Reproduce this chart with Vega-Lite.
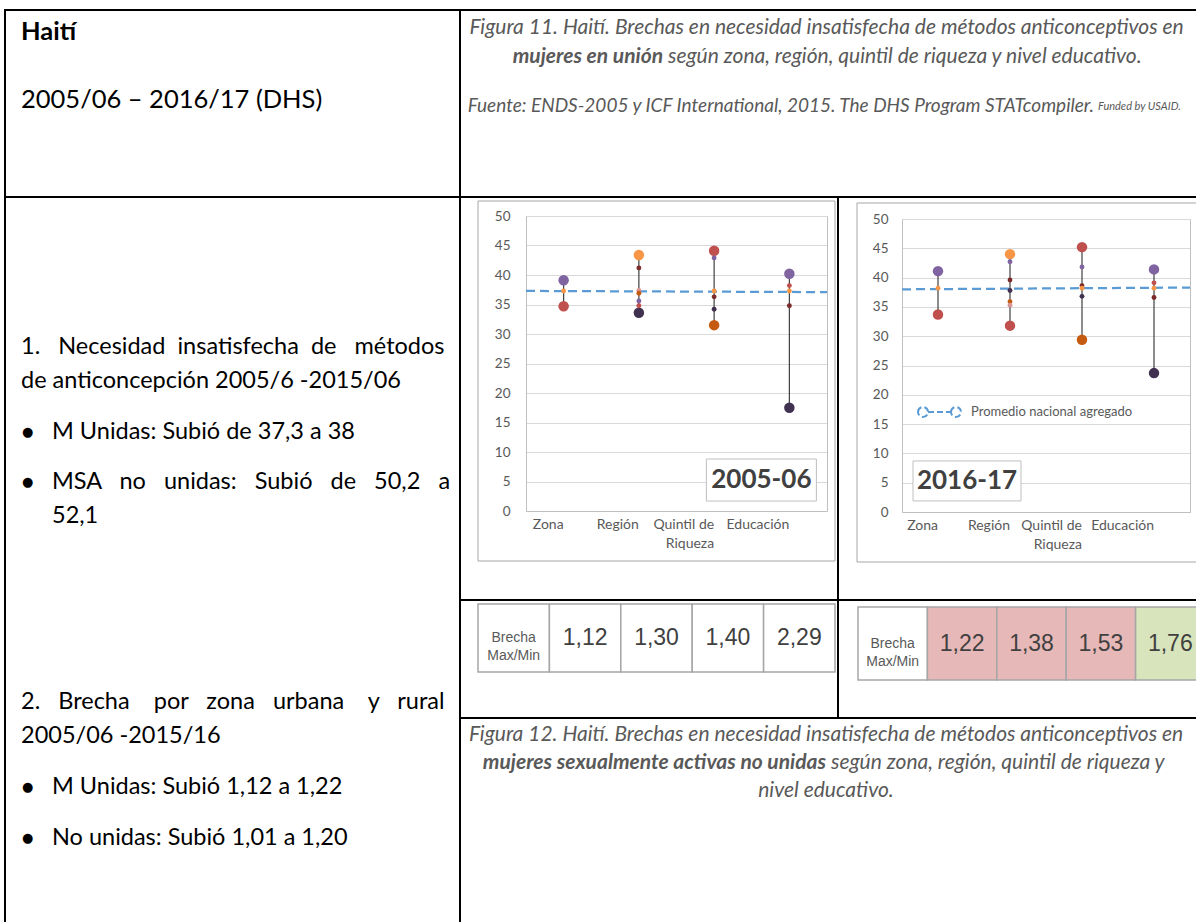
{
"$schema": "https://vega.github.io/schema/vega-lite/v6.json",
"background": "white",
"padding": {"left": 4, "top": 9, "right": 0, "bottom": 0},
"config": {
  "view": {"stroke": null},
  "concat": {"spacing": 0},
  "font": "Lato",
  "locale": {"number": {"decimal": ",", "thousands": ".", "grouping": [3], "currency": ["", " €"]}}
},
"datasets": {
  "puntos": [
    {"anio":"2005-06","categoria":"Zona","serie":"Serie 2","tipo":"extremo","valor":39.1},
    {"anio":"2005-06","categoria":"Zona","serie":"Serie 1","tipo":"extremo","valor":34.7},
    {"anio":"2005-06","categoria":"Zona","serie":"Promedio","tipo":"subgrupo","valor":37.3},
    {"anio":"2005-06","categoria":"Región","serie":"Serie 6","tipo":"extremo","valor":43.4},
    {"anio":"2005-06","categoria":"Región","serie":"Serie 4","tipo":"extremo","valor":33.6},
    {"anio":"2005-06","categoria":"Región","serie":"Serie 3","tipo":"subgrupo","valor":41.2},
    {"anio":"2005-06","categoria":"Región","serie":"Serie 7","tipo":"subgrupo","valor":37.4},
    {"anio":"2005-06","categoria":"Región","serie":"Serie 5","tipo":"subgrupo","valor":36.9},
    {"anio":"2005-06","categoria":"Región","serie":"Serie 2","tipo":"subgrupo","valor":35.6},
    {"anio":"2005-06","categoria":"Región","serie":"Serie 1","tipo":"subgrupo","valor":34.8},
    {"anio":"2005-06","categoria":"Quintil de Riqueza","serie":"Serie 1","tipo":"extremo","valor":44.1},
    {"anio":"2005-06","categoria":"Quintil de Riqueza","serie":"Serie 5","tipo":"extremo","valor":31.5},
    {"anio":"2005-06","categoria":"Quintil de Riqueza","serie":"Serie 2","tipo":"subgrupo","valor":42.9},
    {"anio":"2005-06","categoria":"Quintil de Riqueza","serie":"Promedio","tipo":"subgrupo","valor":37.3},
    {"anio":"2005-06","categoria":"Quintil de Riqueza","serie":"Serie 3","tipo":"subgrupo","valor":36.3},
    {"anio":"2005-06","categoria":"Quintil de Riqueza","serie":"Serie 4","tipo":"subgrupo","valor":34.2},
    {"anio":"2005-06","categoria":"Educación","serie":"Serie 2","tipo":"extremo","valor":40.2},
    {"anio":"2005-06","categoria":"Educación","serie":"Serie 4","tipo":"extremo","valor":17.5},
    {"anio":"2005-06","categoria":"Educación","serie":"Serie 1","tipo":"subgrupo","valor":38.2},
    {"anio":"2005-06","categoria":"Educación","serie":"Promedio","tipo":"subgrupo","valor":37.3},
    {"anio":"2005-06","categoria":"Educación","serie":"Serie 3","tipo":"subgrupo","valor":34.8},
    {"anio":"2016-17","categoria":"Zona","serie":"Serie 2","tipo":"extremo","valor":41.1},
    {"anio":"2016-17","categoria":"Zona","serie":"Serie 1","tipo":"extremo","valor":33.7},
    {"anio":"2016-17","categoria":"Zona","serie":"Promedio","tipo":"subgrupo","valor":38.2},
    {"anio":"2016-17","categoria":"Región","serie":"Serie 6","tipo":"extremo","valor":44.0},
    {"anio":"2016-17","categoria":"Región","serie":"Serie 1","tipo":"extremo","valor":31.8},
    {"anio":"2016-17","categoria":"Región","serie":"Serie 2","tipo":"subgrupo","valor":42.7},
    {"anio":"2016-17","categoria":"Región","serie":"Serie 3","tipo":"subgrupo","valor":39.6},
    {"anio":"2016-17","categoria":"Región","serie":"Serie 4","tipo":"subgrupo","valor":37.8},
    {"anio":"2016-17","categoria":"Región","serie":"Serie 5","tipo":"subgrupo","valor":35.9},
    {"anio":"2016-17","categoria":"Región","serie":"Serie 7","tipo":"subgrupo","valor":35.3},
    {"anio":"2016-17","categoria":"Quintil de Riqueza","serie":"Serie 1","tipo":"extremo","valor":45.2},
    {"anio":"2016-17","categoria":"Quintil de Riqueza","serie":"Serie 5","tipo":"extremo","valor":29.4},
    {"anio":"2016-17","categoria":"Quintil de Riqueza","serie":"Serie 2","tipo":"subgrupo","valor":41.8},
    {"anio":"2016-17","categoria":"Quintil de Riqueza","serie":"Serie 3","tipo":"subgrupo","valor":38.6},
    {"anio":"2016-17","categoria":"Quintil de Riqueza","serie":"Promedio","tipo":"subgrupo","valor":38.2},
    {"anio":"2016-17","categoria":"Quintil de Riqueza","serie":"Serie 4","tipo":"subgrupo","valor":36.8},
    {"anio":"2016-17","categoria":"Educación","serie":"Serie 2","tipo":"extremo","valor":41.4},
    {"anio":"2016-17","categoria":"Educación","serie":"Serie 4","tipo":"extremo","valor":23.7},
    {"anio":"2016-17","categoria":"Educación","serie":"Serie 1","tipo":"subgrupo","valor":39.1},
    {"anio":"2016-17","categoria":"Educación","serie":"Promedio","tipo":"subgrupo","valor":38.2},
    {"anio":"2016-17","categoria":"Educación","serie":"Serie 3","tipo":"subgrupo","valor":36.6}
  ],
  "promedio": [
    {"anio":"2005-06","serie":"Promedio nacional agregado","inicio":37.3,"fin":37.1},
    {"anio":"2016-17","serie":"Promedio nacional agregado","inicio":38.0,"fin":38.3}
  ],
  "brechas": [
    {"anio":"2005-06","columna":"Brecha Max/Min","estado":"etiqueta","texto":"Brecha\nMax/Min"},
    {"anio":"2005-06","columna":"Zona","estado":"neutro","brecha":1.12},
    {"anio":"2005-06","columna":"Región","estado":"neutro","brecha":1.30},
    {"anio":"2005-06","columna":"Quintil de Riqueza","estado":"neutro","brecha":1.40},
    {"anio":"2005-06","columna":"Educación","estado":"neutro","brecha":2.29},
    {"anio":"2016-17","columna":"Brecha Max/Min","estado":"etiqueta","texto":"Brecha\nMax/Min"},
    {"anio":"2016-17","columna":"Zona","estado":"aumenta","brecha":1.22},
    {"anio":"2016-17","columna":"Región","estado":"aumenta","brecha":1.38},
    {"anio":"2016-17","columna":"Quintil de Riqueza","estado":"aumenta","brecha":1.53},
    {"anio":"2016-17","columna":"Educación","estado":"disminuye","brecha":1.76}
  ],
  "textos": [
    {"bloque":"L1","linea":1,"estilo":"negrita","texto":"Haití"},
    {"bloque":"L1","linea":2,"estilo":"normal","texto":"2005/06 – 2016/17 (DHS)"},
    {"bloque":"L2","linea":0,"nivel":0,"texto":"1.\u00a0\u00a0 Necesidad\u00a0 insatisfecha\u00a0 de\u00a0\u00a0 métodos"},
    {"bloque":"L2","linea":2,"nivel":0,"texto":"de anticoncepción 2005/6 -2015/06"},
    {"bloque":"L2","linea":5,"nivel":1,"texto":"M Unidas: Subió de 37,3 a 38"},
    {"bloque":"L2","linea":8,"nivel":1,"texto":"MSA\u00a0\u00a0 no\u00a0\u00a0 unidas:\u00a0\u00a0 Subió\u00a0\u00a0 de\u00a0\u00a0 50,2\u00a0\u00a0 a"},
    {"bloque":"L2","linea":10,"nivel":1,"texto":"52,1"},
    {"bloque":"L2","linea":21,"nivel":0,"texto":"2.\u00a0\u00a0 Brecha\u00a0\u00a0\u00a0 por\u00a0\u00a0 zona\u00a0\u00a0 urbana\u00a0\u00a0\u00a0 y\u00a0\u00a0 rural"},
    {"bloque":"L2","linea":23,"nivel":0,"texto":"2005/06 -2015/16"},
    {"bloque":"L2","linea":26,"nivel":1,"texto":"M Unidas: Subió 1,12 a 1,22"},
    {"bloque":"L2","linea":29,"nivel":1,"texto":"No unidas: Subió 1,01 a 1,20"},
    {"bloque":"V","linea":5,"nivel":0,"texto":"●"},
    {"bloque":"V","linea":8,"nivel":0,"texto":"●"},
    {"bloque":"V","linea":26,"nivel":0,"texto":"●"},
    {"bloque":"V","linea":29,"nivel":0,"texto":"●"},
    {"bloque":"R1","linea":1,"estilo":"normal","texto":"Figura 11. Haití. Brechas en necesidad insatisfecha de métodos anticonceptivos en"},
    {"bloque":"R1","linea":2,"estilo":"negrita","texto":"mujeres en unión"},
    {"bloque":"R1","linea":2,"estilo":"cola","texto":"según zona, región, quintil de riqueza y nivel educativo."},
    {"bloque":"R1","linea":3,"estilo":"fuente","texto":"Fuente: ENDS-2005 y ICF International, 2015. The DHS Program STATcompiler."},
    {"bloque":"R1","linea":3,"estilo":"usaid","texto":"Funded by USAID."},
    {"bloque":"R4","linea":1,"estilo":"normal","texto":"Figura 12. Haití. Brechas en necesidad insatisfecha de métodos anticonceptivos en"},
    {"bloque":"R4","linea":2,"estilo":"negrita","texto":"mujeres sexualmente activas no unidas"},
    {"bloque":"R4","linea":2,"estilo":"cola","texto":"según zona, región, quintil de riqueza y"},
    {"bloque":"R4","linea":3,"estilo":"normal","texto":"nivel educativo."}
  ]
},
"spacing": 0,
"hconcat": [
  {"width": 2, "height": 920, "data": {"values": []}, "mark": "rect", "encoding": {}, "view": {"fill": "black", "stroke": null}},
  {"spacing": 0, "vconcat": [
    {"width": 453, "height": 2, "data": {"values": []}, "mark": "rect", "encoding": {}, "view": {"fill": "black", "stroke": null}},
    {"width": 453, "height": 185, "data": {"name": "textos"},
     "layer": [
       {"transform": [{"filter": "datum.bloque == 'L1' && datum.estilo == 'negrita'"}],
        "mark": {"type": "text", "align": "left", "baseline": "middle", "font": "Lato", "fontSize": 25.5, "fontWeight": "bold", "color": "#000000", "dx": -211.5, "clip": true},
        "encoding": {"y": {"field": "linea", "type": "quantitative", "scale": {"domain": [1, 2], "range": [21, 89]}, "axis": null}, "text": {"field": "texto"}}},
       {"transform": [{"filter": "datum.bloque == 'L1' && datum.estilo == 'normal'"}],
        "mark": {"type": "text", "align": "left", "baseline": "middle", "font": "Lato", "fontSize": 25.5, "color": "#000000", "dx": -211.5, "clip": true},
        "encoding": {"y": {"field": "linea", "type": "quantitative", "scale": {"domain": [1, 2], "range": [21, 89]}, "axis": null}, "text": {"field": "texto"}}}
     ]},
    {"width": 453, "height": 2, "data": {"values": []}, "mark": "rect", "encoding": {}, "view": {"fill": "black", "stroke": null}},
    {"width": 453, "height": 731, "data": {"name": "textos"},
     "layer": [
       {"transform": [{"filter": "datum.bloque == 'L2'"}],
        "mark": {"type": "text", "align": "left", "baseline": "middle", "font": "Lato", "fontSize": 23.5, "color": "#000000", "clip": true},
        "encoding": {
          "x": {"field": "nivel", "type": "quantitative", "scale": {"domain": [0, 1], "range": [15, 46]}, "axis": null},
          "y": {"field": "linea", "type": "quantitative", "scale": {"domain": [0, 29], "range": [149, 639.8]}, "axis": null},
          "text": {"field": "texto"}}},
       {"transform": [{"filter": "datum.bloque == 'V'"}],
        "mark": {"type": "text", "align": "left", "baseline": "middle", "font": "DejaVu Sans", "fontSize": 13, "color": "#000000", "dx": 1, "clip": true},
        "encoding": {
          "x": {"field": "nivel", "type": "quantitative", "scale": {"domain": [0, 1], "range": [15, 46]}, "axis": null},
          "y": {"field": "linea", "type": "quantitative", "scale": {"domain": [0, 29], "range": [149, 639.8]}, "axis": null},
          "text": {"field": "texto"}}}
     ]}
  ]},
  {"width": 2, "height": 920, "data": {"values": []}, "mark": "rect", "encoding": {}, "view": {"fill": "black", "stroke": null}},
  {"spacing": 0, "vconcat": [
    {"width": 740, "height": 2, "data": {"values": []}, "mark": "rect", "encoding": {}, "view": {"fill": "black", "stroke": null}},
    {"width": 740, "height": 185, "data": {"name": "textos"},
     "layer": [
       {"transform": [{"filter": "datum.bloque == 'R1' && datum.estilo == 'normal'"}],
        "mark": {"type": "text", "align": "center", "baseline": "middle", "font": "Lato", "fontSize": 21, "fontStyle": "italic", "color": "#595959", "dx": -4.5, "clip": true},
        "encoding": {"y": {"field": "linea", "type": "quantitative", "scale": {"domain": [1, 3], "range": [17, 75]}, "axis": null}, "text": {"field": "texto"}}},
       {"transform": [{"filter": "datum.bloque == 'R1' && datum.estilo == 'negrita'"}],
        "mark": {"type": "text", "align": "right", "baseline": "middle", "font": "Lato", "fontSize": 21, "fontStyle": "italic", "fontWeight": "bold", "color": "#595959", "dx": -168, "clip": true},
        "encoding": {"y": {"field": "linea", "type": "quantitative", "scale": {"domain": [1, 3], "range": [17, 75]}, "axis": null}, "text": {"field": "texto"}}},
       {"transform": [{"filter": "datum.bloque == 'R1' && datum.estilo == 'cola'"}],
        "mark": {"type": "text", "align": "left", "baseline": "middle", "font": "Lato", "fontSize": 21, "fontStyle": "italic", "color": "#595959", "dx": -163, "clip": true},
        "encoding": {"y": {"field": "linea", "type": "quantitative", "scale": {"domain": [1, 3], "range": [17, 75]}, "axis": null}, "text": {"field": "texto"}}},
       {"transform": [{"filter": "datum.bloque == 'R1' && datum.estilo == 'fuente'"}],
        "mark": {"type": "text", "align": "right", "baseline": "middle", "font": "Lato", "fontSize": 19, "fontStyle": "italic", "color": "#595959", "dx": 263, "dy": 20, "clip": true},
        "encoding": {"y": {"field": "linea", "type": "quantitative", "scale": {"domain": [1, 3], "range": [17, 75]}, "axis": null}, "text": {"field": "texto"}}},
       {"transform": [{"filter": "datum.bloque == 'R1' && datum.estilo == 'usaid'"}],
        "mark": {"type": "text", "align": "left", "baseline": "middle", "font": "Lato", "fontSize": 11, "fontStyle": "italic", "color": "#595959", "dx": 267, "dy": 21, "clip": true},
        "encoding": {"y": {"field": "linea", "type": "quantitative", "scale": {"domain": [1, 3], "range": [17, 75]}, "axis": null}, "text": {"field": "texto"}}}
     ]},
    {"width": 740, "height": 2, "data": {"values": []}, "mark": "rect", "encoding": {}, "view": {"fill": "black", "stroke": null}},
    {"spacing": 0,
     "resolve": {"scale": {"stroke": "independent", "color": "independent", "size": "independent"}, "legend": {"stroke": "independent", "color": "independent", "size": "independent"}},
     "hconcat": [
      {"width": 376, "height": 401,
       "layer": [
         {"data": {"values": [{}]},
          "mark": {"type": "rect", "filled": false, "stroke": "#a6a6a6", "strokeWidth": 1},
          "encoding": {
            "x": {"datum": 0, "type": "quantitative", "scale": {"domain": [0, 1], "range": [17, 374]}, "axis": null},
            "x2": {"datum": 1},
            "y": {"datum": 0, "type": "quantitative", "scale": {"domain": [0, 1], "range": [363, 3]}, "axis": null},
            "y2": {"datum": 1}}},
         {"layer": [
           {"data": {"name": "promedio"}, "transform": [{"filter": "datum.anio == '2005-06'"}],
            "mark": {"type": "rule", "strokeDash": [9, 5], "strokeWidth": 2.25, "color": "#5b9bd5"},
            "encoding": {
              "x": {"datum": "Zona", "type": "nominal", "bandPosition": 0, "title": null, "scale": {"type": "band", "domain": ["Zona", "Región", "Quintil de Riqueza", "Educación"], "range": [65, 366], "paddingInner": 0, "paddingOuter": 0}},
              "x2": {"datum": "Educación", "bandPosition": 1},
              "y": {"field": "inicio", "type": "quantitative", "title": null, "scale": {"domain": [0, 50], "range": [313, 18], "nice": false, "zero": false}, "axis": null},
              "y2": {"field": "fin"}}},
           {"data": {"name": "puntos"}, "transform": [{"filter": "datum.anio == '2005-06'"}],
            "mark": {"type": "rule", "color": "#404040", "strokeWidth": 1.2},
            "encoding": {
              "x": {"field": "categoria", "type": "nominal", "title": null, "scale": {"type": "band", "domain": ["Zona", "Región", "Quintil de Riqueza", "Educación"], "range": [65, 366], "paddingInner": 0, "paddingOuter": 0}},
              "y": {"aggregate": "min", "field": "valor", "type": "quantitative", "title": null, "scale": {"domain": [0, 50], "range": [313, 18], "nice": false, "zero": false},
                    "axis": {"orient": "right", "offset": -10, "labels": false, "ticks": false, "grid": false, "domain": true, "domainColor": "#bfbfbf", "title": null}},
              "y2": {"aggregate": "max", "field": "valor"}}},
           {"data": {"name": "puntos"}, "transform": [{"filter": "datum.anio == '2005-06'"}],
            "mark": {"type": "circle", "opacity": 1},
            "encoding": {
              "x": {"field": "categoria", "type": "nominal", "title": null, "scale": {"type": "band", "domain": ["Zona", "Región", "Quintil de Riqueza", "Educación"], "range": [65, 366], "paddingInner": 0, "paddingOuter": 0},
                    "axis": {"orient": "bottom", "offset": -88, "domain": true, "domainColor": "#bfbfbf", "ticks": false, "grid": false, "labelAngle": 0, "labelPadding": 13, "labelColor": "#595959", "labelFont": "Lato", "labelFontSize": 14, "labelLineHeight": 19, "labelExpr": "datum.value == 'Quintil de Riqueza' ? ['Quintil de', 'Riqueza'] : datum.value", "title": null}},
              "y": {"field": "valor", "type": "quantitative", "title": null, "scale": {"domain": [0, 50], "range": [313, 18], "nice": false, "zero": false},
                    "axis": {"orient": "left", "offset": -65, "values": [0, 5, 10, 15, 20, 25, 30, 35, 40, 45, 50], "grid": true, "gridColor": "#d9d9d9", "gridWidth": 1, "domain": true, "domainColor": "#bfbfbf", "ticks": false, "tickSize": 0, "labelPadding": 16, "labelColor": "#595959", "labelFont": "Lato", "labelFontSize": 13.5, "title": null}},
              "color": {"field": "serie", "type": "nominal", "scale": {"domain": ["Serie 1", "Serie 2", "Serie 3", "Serie 4", "Serie 5", "Serie 6", "Serie 7", "Promedio"], "range": ["#c0504d", "#8064a2", "#7b2c2a", "#403151", "#c55a11", "#f79646", "#d99694", "#f79646"]}, "legend": null},
              "size": {"field": "tipo", "type": "ordinal", "scale": {"domain": ["extremo", "subgrupo"], "range": [110, 24]}, "legend": null}}},
           {"data": {"values": [{"anio": "2005-06"}]},
            "mark": {"type": "point", "shape": "M-1,-0.382H1V0.382H-1Z", "size": 12100, "filled": true, "fill": "#ffffff", "stroke": "#bfbfbf", "strokeWidth": 1, "opacity": 1, "xOffset": -28},
            "encoding": {
              "x": {"datum": "Educación", "type": "nominal", "title": null, "scale": {"type": "band", "domain": ["Zona", "Región", "Quintil de Riqueza", "Educación"], "range": [65, 366], "paddingInner": 0, "paddingOuter": 0}},
              "y": {"datum": 5.25, "type": "quantitative", "title": null, "scale": {"domain": [0, 50], "range": [313, 18], "nice": false, "zero": false}, "axis": null}}},
           {"data": {"values": [{"anio": "2005-06"}]},
            "mark": {"type": "text", "font": "Lato", "fontSize": 26, "fontWeight": "bold", "color": "#404040", "align": "center", "baseline": "middle", "xOffset": -28},
            "encoding": {
              "x": {"datum": "Educación", "type": "nominal", "title": null, "scale": {"type": "band", "domain": ["Zona", "Región", "Quintil de Riqueza", "Educación"], "range": [65, 366], "paddingInner": 0, "paddingOuter": 0}},
              "y": {"datum": 5.25, "type": "quantitative", "title": null, "scale": {"domain": [0, 50], "range": [313, 18], "nice": false, "zero": false}, "axis": null},
              "text": {"field": "anio"}}}
         ],
         "resolve": {"axis": {"y": "independent"}}}
       ],
       "resolve": {"scale": {"x": "independent", "y": "independent"}, "axis": {"x": "independent", "y": "independent"}}},
      {"width": 2, "height": 401, "data": {"values": []}, "mark": "rect", "encoding": {}, "view": {"fill": "black", "stroke": null}},
      {"width": 362, "height": 401,
       "layer": [
         {"data": {"values": [{}]},
          "mark": {"type": "rect", "filled": false, "stroke": "#a6a6a6", "strokeWidth": 1},
          "encoding": {
            "x": {"datum": 0, "type": "quantitative", "scale": {"domain": [0, 1], "range": [18, 361]}, "axis": null},
            "x2": {"datum": 1},
            "y": {"datum": 0, "type": "quantitative", "scale": {"domain": [0, 1], "range": [364, 5]}, "axis": null},
            "y2": {"datum": 1}}},
         {"layer": [
           {"data": {"name": "promedio"}, "transform": [{"filter": "datum.anio == '2016-17'"}],
            "mark": {"type": "rule", "strokeDash": [9, 5], "strokeWidth": 2.25},
            "encoding": {
              "x": {"datum": "Zona", "type": "nominal", "bandPosition": 0, "title": null, "scale": {"type": "band", "domain": ["Zona", "Región", "Quintil de Riqueza", "Educación"], "range": [63, 351], "paddingInner": 0, "paddingOuter": 0}},
              "x2": {"datum": "Educación", "bandPosition": 1},
              "y": {"field": "inicio", "type": "quantitative", "title": null, "scale": {"domain": [0, 50], "range": [314, 21], "nice": false, "zero": false}, "axis": null},
              "y2": {"field": "fin"},
              "stroke": {"field": "serie", "type": "nominal", "scale": {"range": ["#5b9bd5"]},
                         "legend": {"orient": "none", "legendX": 89.5, "legendY": 203, "title": null, "padding": 0,
                                    "symbolType": "M-2.15,0A0.5,0.5,0,1,1,-1.15,0A0.5,0.5,0,1,1,-2.15,0M-1.15,0L1.15,0M1.15,0A0.5,0.5,0,1,1,2.15,0A0.5,0.5,0,1,1,1.15,0",
                                    "symbolSize": 400, "symbolStrokeWidth": 2, "symbolDash": [6, 3], "symbolFillColor": "transparent",
                                    "labelFont": "Lato", "labelFontSize": 13, "labelColor": "#595959", "labelOffset": 20.5, "labelLimit": 0}}}},
           {"data": {"name": "puntos"}, "transform": [{"filter": "datum.anio == '2016-17'"}],
            "mark": {"type": "rule", "color": "#404040", "strokeWidth": 1.2},
            "encoding": {
              "x": {"field": "categoria", "type": "nominal", "title": null, "scale": {"type": "band", "domain": ["Zona", "Región", "Quintil de Riqueza", "Educación"], "range": [63, 351], "paddingInner": 0, "paddingOuter": 0}},
              "y": {"aggregate": "min", "field": "valor", "type": "quantitative", "title": null, "scale": {"domain": [0, 50], "range": [314, 21], "nice": false, "zero": false},
                    "axis": {"orient": "right", "offset": -11, "labels": false, "ticks": false, "grid": false, "domain": true, "domainColor": "#bfbfbf", "title": null}},
              "y2": {"aggregate": "max", "field": "valor"}}},
           {"data": {"name": "puntos"}, "transform": [{"filter": "datum.anio == '2016-17'"}],
            "mark": {"type": "circle", "opacity": 1},
            "encoding": {
              "x": {"field": "categoria", "type": "nominal", "title": null, "scale": {"type": "band", "domain": ["Zona", "Región", "Quintil de Riqueza", "Educación"], "range": [63, 351], "paddingInner": 0, "paddingOuter": 0},
                    "axis": {"orient": "bottom", "offset": -87, "domain": true, "domainColor": "#bfbfbf", "ticks": false, "grid": false, "labelAngle": 0, "labelPadding": 13, "labelColor": "#595959", "labelFont": "Lato", "labelFontSize": 14, "labelLineHeight": 19, "labelExpr": "datum.value == 'Quintil de Riqueza' ? ['Quintil de', 'Riqueza'] : datum.value", "title": null}},
              "y": {"field": "valor", "type": "quantitative", "title": null, "scale": {"domain": [0, 50], "range": [314, 21], "nice": false, "zero": false},
                    "axis": {"orient": "left", "offset": -63, "values": [0, 5, 10, 15, 20, 25, 30, 35, 40, 45, 50], "grid": true, "gridColor": "#d9d9d9", "gridWidth": 1, "domain": true, "domainColor": "#bfbfbf", "ticks": false, "tickSize": 0, "labelPadding": 14, "labelColor": "#595959", "labelFont": "Lato", "labelFontSize": 13.5, "title": null}},
              "color": {"field": "serie", "type": "nominal", "scale": {"domain": ["Serie 1", "Serie 2", "Serie 3", "Serie 4", "Serie 5", "Serie 6", "Serie 7", "Promedio"], "range": ["#c0504d", "#8064a2", "#7b2c2a", "#403151", "#c55a11", "#f79646", "#d99694", "#f79646"]}, "legend": null},
              "size": {"field": "tipo", "type": "ordinal", "scale": {"domain": ["extremo", "subgrupo"], "range": [110, 24]}, "legend": null}}},
           {"data": {"values": [{"anio": "2016-17"}]},
            "mark": {"type": "point", "shape": "M-1,-0.37H1V0.37H-1Z", "size": 11664, "filled": true, "fill": "#ffffff", "stroke": "#bfbfbf", "strokeWidth": 1, "opacity": 1, "xOffset": 29},
            "encoding": {
              "x": {"datum": "Zona", "type": "nominal", "title": null, "scale": {"type": "band", "domain": ["Zona", "Región", "Quintil de Riqueza", "Educación"], "range": [63, 351], "paddingInner": 0, "paddingOuter": 0}},
              "y": {"datum": 5.3, "type": "quantitative", "title": null, "scale": {"domain": [0, 50], "range": [314, 21], "nice": false, "zero": false}, "axis": null}}},
           {"data": {"values": [{"anio": "2016-17"}]},
            "mark": {"type": "text", "font": "Lato", "fontSize": 26, "fontWeight": "bold", "color": "#404040", "align": "center", "baseline": "middle", "xOffset": 29},
            "encoding": {
              "x": {"datum": "Zona", "type": "nominal", "title": null, "scale": {"type": "band", "domain": ["Zona", "Región", "Quintil de Riqueza", "Educación"], "range": [63, 351], "paddingInner": 0, "paddingOuter": 0}},
              "y": {"datum": 5.3, "type": "quantitative", "title": null, "scale": {"domain": [0, 50], "range": [314, 21], "nice": false, "zero": false}, "axis": null},
              "text": {"field": "anio"}}}
         ],
         "resolve": {"axis": {"y": "independent"}}}
       ],
       "resolve": {"scale": {"x": "independent", "y": "independent"}, "axis": {"x": "independent", "y": "independent"}}}
    ]},
    {"width": 740, "height": 2, "data": {"values": []}, "mark": "rect", "encoding": {}, "view": {"fill": "black", "stroke": null}},
    {"spacing": 0, "hconcat": [
      {"width": 376, "height": 116, "data": {"name": "brechas"},
       "transform": [{"filter": "datum.anio == '2005-06'"}],
       "encoding": {
         "x": {"field": "columna", "type": "nominal", "scale": {"type": "band", "domain": ["Brecha Max/Min", "Zona", "Región", "Quintil de Riqueza", "Educación"], "range": [17, 374], "paddingInner": 0, "paddingOuter": 0}, "axis": null},
         "y": {"field": "anio", "type": "nominal", "scale": {"type": "band", "range": [3, 71], "paddingInner": 0, "paddingOuter": 0}, "axis": null}},
       "layer": [
         {"mark": {"type": "rect", "stroke": "#a6a6a6", "strokeWidth": 1.5},
          "encoding": {"fill": {"field": "estado", "type": "nominal", "scale": {"domain": ["etiqueta", "neutro", "aumenta", "disminuye"], "range": ["#ffffff", "#ffffff", "#e6b8b7", "#d8e4bc"]}, "legend": null}}},
         {"transform": [{"filter": "datum.estado == 'etiqueta'"}],
          "mark": {"type": "text", "lineBreak": "\n", "font": "Liberation Sans", "fontSize": 14, "lineHeight": 18, "color": "#595959"},
          "encoding": {"text": {"field": "texto"}}},
         {"transform": [{"filter": "datum.estado != 'etiqueta'"}],
          "mark": {"type": "text", "font": "Liberation Sans", "fontSize": 23, "color": "#404040"},
          "encoding": {"text": {"field": "brecha", "type": "quantitative", "format": ".2f"}}}
       ]},
      {"width": 2, "height": 116, "data": {"values": []}, "mark": "rect", "encoding": {}, "view": {"fill": "black", "stroke": null}},
      {"width": 362, "height": 116, "data": {"name": "brechas"},
       "transform": [{"filter": "datum.anio == '2016-17'"}],
       "encoding": {
         "x": {"field": "columna", "type": "nominal", "scale": {"type": "band", "domain": ["Brecha Max/Min", "Zona", "Región", "Quintil de Riqueza", "Educación"], "range": [19, 366], "paddingInner": 0, "paddingOuter": 0}, "axis": null},
         "y": {"field": "anio", "type": "nominal", "scale": {"type": "band", "range": [6, 79], "paddingInner": 0, "paddingOuter": 0}, "axis": null}},
       "layer": [
         {"mark": {"type": "rect", "stroke": "#a6a6a6", "strokeWidth": 1.5},
          "encoding": {"fill": {"field": "estado", "type": "nominal", "scale": {"domain": ["etiqueta", "neutro", "aumenta", "disminuye"], "range": ["#ffffff", "#ffffff", "#e6b8b7", "#d8e4bc"]}, "legend": null}}},
         {"transform": [{"filter": "datum.estado == 'etiqueta'"}],
          "mark": {"type": "text", "lineBreak": "\n", "font": "Liberation Sans", "fontSize": 14, "lineHeight": 18, "color": "#595959"},
          "encoding": {"text": {"field": "texto"}}},
         {"transform": [{"filter": "datum.estado != 'etiqueta'"}],
          "mark": {"type": "text", "font": "Liberation Sans", "fontSize": 23, "color": "#404040"},
          "encoding": {"text": {"field": "brecha", "type": "quantitative", "format": ".2f"}}}
       ]}
    ]},
    {"width": 740, "height": 2, "data": {"values": []}, "mark": "rect", "encoding": {}, "view": {"fill": "black", "stroke": null}},
    {"width": 740, "height": 210, "data": {"name": "textos"},
     "layer": [
       {"transform": [{"filter": "datum.bloque == 'R4' && datum.estilo == 'normal'"}],
        "mark": {"type": "text", "align": "center", "baseline": "middle", "font": "Lato", "fontSize": 21, "fontStyle": "italic", "color": "#595959", "dx": -5, "clip": true},
        "encoding": {"y": {"field": "linea", "type": "quantitative", "scale": {"domain": [1, 3], "range": [16, 72]}, "axis": null}, "text": {"field": "texto"}}},
       {"transform": [{"filter": "datum.bloque == 'R4' && datum.estilo == 'negrita'"}],
        "mark": {"type": "text", "align": "right", "baseline": "middle", "font": "Lato", "fontSize": 21, "fontStyle": "italic", "fontWeight": "bold", "color": "#595959", "dx": -5, "clip": true},
        "encoding": {"y": {"field": "linea", "type": "quantitative", "scale": {"domain": [1, 3], "range": [16, 72]}, "axis": null}, "text": {"field": "texto"}}},
       {"transform": [{"filter": "datum.bloque == 'R4' && datum.estilo == 'cola'"}],
        "mark": {"type": "text", "align": "left", "baseline": "middle", "font": "Lato", "fontSize": 21, "fontStyle": "italic", "color": "#595959", "dx": 0, "clip": true},
        "encoding": {"y": {"field": "linea", "type": "quantitative", "scale": {"domain": [1, 3], "range": [16, 72]}, "axis": null}, "text": {"field": "texto"}}}
     ]}
  ]}
]
}
